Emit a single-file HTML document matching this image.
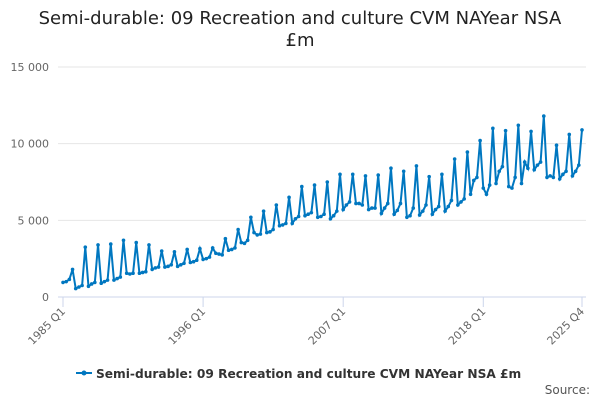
<!DOCTYPE html>
<html><head><meta charset="utf-8"><style>
body{margin:0;background:#fff;font-family:"DejaVu Sans",sans-serif}
svg text{font-family:"DejaVu Sans",sans-serif}
</style></head><body>
<svg width="600" height="400">
<text x="300" y="24" text-anchor="middle" font-size="18" fill="#222">Semi-durable: 09 Recreation and culture CVM NAYear NSA</text>
<text x="300" y="46" text-anchor="middle" font-size="18" fill="#222">£m</text>
<g id="grid"></g><g id="xaxis"></g><g id="plot"></g>
<g>
<line x1="76" y1="373" x2="92" y2="373" stroke="#0077c0" stroke-width="2"/><circle cx="84" cy="373" r="2.5" fill="#0077c0"/>
<text x="96" y="378" font-size="12.2" font-weight="bold" fill="#333">Semi-durable: 09 Recreation and culture CVM NAYear NSA £m</text></g>
<text x="590" y="394" text-anchor="end" font-size="12" fill="#555">Source:</text>
</svg>
<script>
const yTicks=[0,5000,10000,15000];
const yTickLabels=["0","5 000","10 000","15 000"];
const xTickIdx=[0,44,88,132,163];
const xTickLabels=["1985 Q1","1996 Q1","2007 Q1","2018 Q1","2025 Q4"];
const values=[
950,1000,1150,1800, 550,650,750,3250, 700,850,950,3400, 900,1000,1100,3450,
1100,1200,1300,3700, 1550,1500,1550,3550, 1550,1600,1650,3400, 1800,1900,1950,3000,
1950,2000,2100,2950, 2000,2100,2200,3100, 2250,2300,2400,3150, 2450,2500,2600,3200,
2850,2800,2750,3800, 3050,3100,3200,4400, 3550,3500,3700,5200, 4200,4050,4100,5600,
4200,4250,4400,6000, 4650,4700,4800,6500, 4800,5100,5250,7200, 5300,5400,5500,7300,
5200,5250,5400,7500, 5100,5300,5600,8000, 5700,6000,6200,8000, 6100,6100,6000,7900,
5700,5800,5800,7950, 5450,5800,6100,8400, 5400,5650,6100,8200, 5200,5300,5800,8550,
5350,5600,6000,7850, 5400,5700,5900,8000, 5600,5900,6300,9000, 6000,6200,6400,9450,
6700,7600,7800,10200, 7100,6700,7300,11000, 7400,8200,8500,10850, 7200,7100,7800,11200,
7400,8800,8400,10800, 8300,8600,8800,11800, 7800,7900,7800,9900, 7700,8000,8200,10600,
7900,8200,8600,10900];
const NS="http://www.w3.org/2000/svg";
const x0=63,x1=582,y0=297,yTop=67;
const xs=i=>x0+i*(x1-x0)/(values.length-1);
const ys=v=>y0-v*(y0-yTop)/15000;
function mk(t,a,p){const e=document.createElementNS(NS,t);for(const k in a)e.setAttribute(k,a[k]);p.appendChild(e);return e;}
const grid=document.getElementById('grid'),xa=document.getElementById('xaxis'),plot=document.getElementById('plot');
yTicks.forEach((v,i)=>{
 const l=mk('line',{x1:58,x2:586,y1:ys(v),y2:ys(v),stroke:i==0?'#ccd6eb':'#e6e6e6','stroke-width':1},grid);
 
 
 const t=mk('text',{x:49,y:ys(v)+4,'text-anchor':'end','font-size':11,fill:'#666'},grid);
 t.textContent=yTickLabels[i];
 
 
});
xTickIdx.forEach((idx,i)=>{
 const x=xs(idx);
 const l=mk('line',{x1:x,x2:x,y1:y0,y2:y0+10,stroke:'#ccd6eb'},xa);
 
 
 const t=mk('text',{x:x+3,y:y0+15,'text-anchor':'end','font-size':11,fill:'#666',transform:`rotate(-45 ${x+3} ${y0+15})`},xa);
 t.textContent=xTickLabels[i];
 
 
});
const pl=mk('polyline',{points:values.map((v,i)=>xs(i)+','+ys(v)).join(' '),fill:'none',stroke:'#0077c0','stroke-width':2},plot);


values.forEach((v,i)=>{
 const c=mk('circle',{cx:xs(i),cy:ys(v),r:1.8,fill:'#0077c0'},plot);
 
 
});
</script>
</body></html>
